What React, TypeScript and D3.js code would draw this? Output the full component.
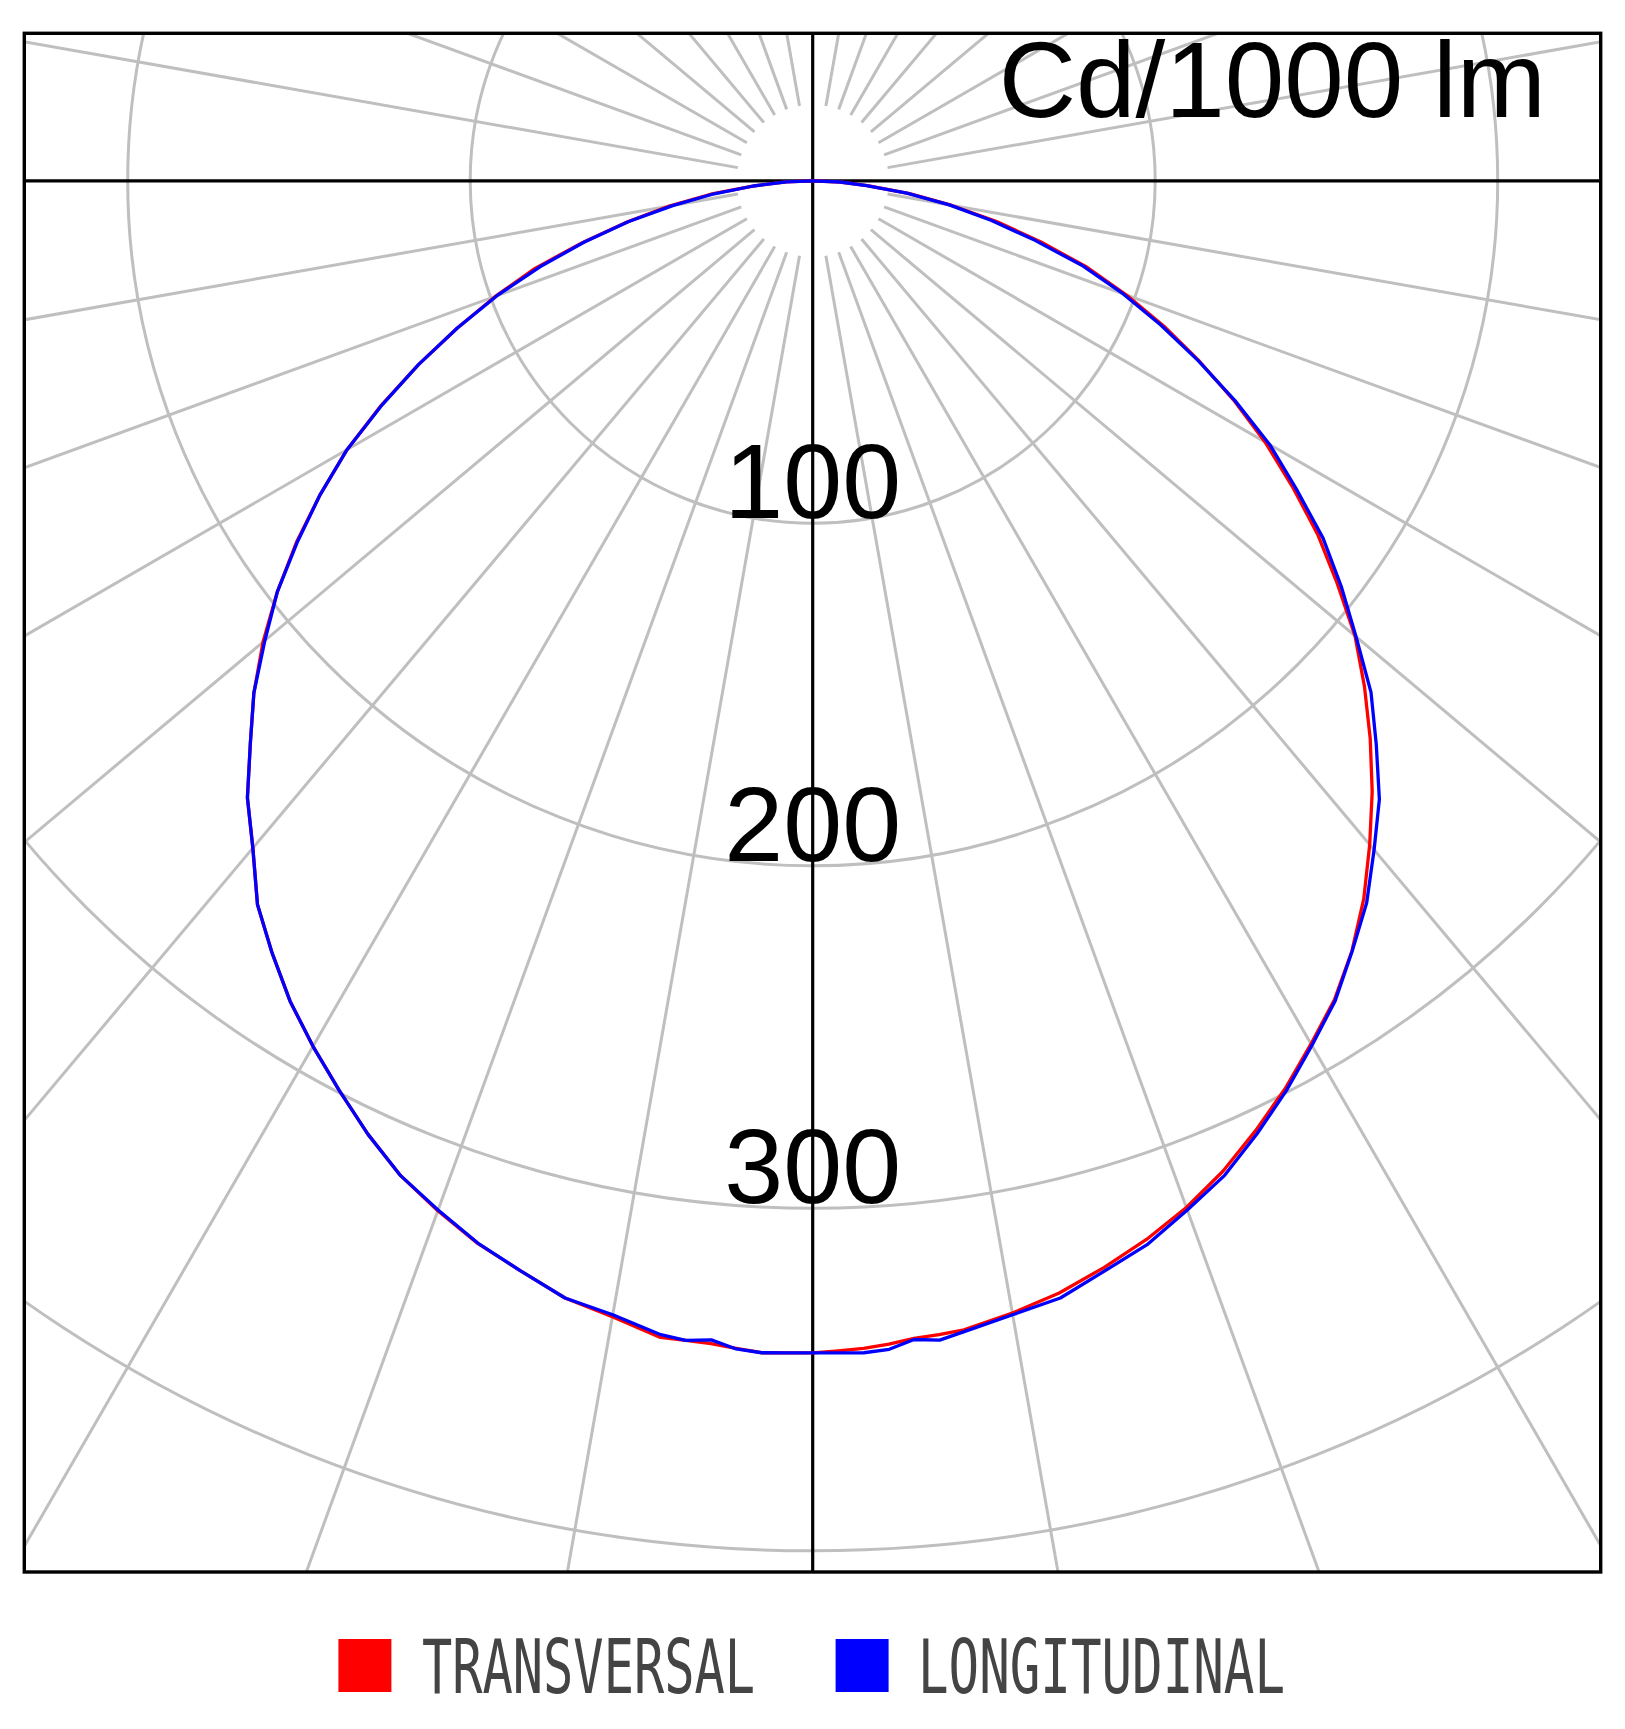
import React from 'react';
import * as d3 from 'd3';

// Polar angles measured from nadir (degrees)
const ANGLES = [0, 1.25, 2.5, 3.75, 5, 6.25, 7.5, 10, 12.5, 15, 17.5, 20, 22.5, 25, 27.5, 30, 32.5, 35, 37.5, 40, 42.5, 45, 47.5, 50, 52.5, 55, 57.5, 60, 62.5, 65, 67.5, 70, 72.5, 75, 77.5, 80, 82.5, 85, 87.5, 90];

// Luminous intensity, cd/1000 lm
const TRANSVERSAL_LEFT = [342.2, 342.3, 342.5, 341.6, 340.8, 340.6, 340.6, 336.8, 334.1, 329.5, 325.3, 320.0, 314.4, 307.2, 299.4, 291.8, 284.0, 275.2, 266.3, 254.3, 244.3, 232.2, 221.3, 209.5, 197.0, 184.0, 170.5, 157.0, 142.0, 127.0, 112.3, 98.5, 85.0, 69.5, 55.5, 42.5, 30.0, 17.6, 7.7, 0];
const TRANSVERSAL_RIGHT = [342.2, 341.7, 341.2, 340.4, 339.3, 338.9, 338.4, 335.7, 332.6, 328.5, 324.1, 319.0, 313.0, 306.0, 298.8, 291.0, 283.5, 274.5, 264.3, 253.0, 241.8, 230.2, 218.5, 206.7, 193.0, 180.0, 166.0, 152.5, 138.5, 124.5, 111.0, 97.5, 84.0, 69.0, 55.0, 41.0, 28.5, 16.0, 8.0, 0];
const LONGITUDINAL_LEFT = [342.2, 342.3, 342.5, 341.8, 339.7, 340.6, 339.8, 336.2, 334.1, 329.5, 325.2, 319.8, 314.4, 307.2, 299.4, 291.8, 284.0, 275.2, 266.3, 254.3, 244.3, 232.2, 221.3, 208.8, 197.0, 183.6, 170.5, 157.0, 141.8, 127.0, 112.3, 98.1, 83.5, 69.0, 55.0, 41.3, 29.0, 17.4, 7.7, 0];
const LONGITUDINAL_RIGHT = [342.2, 342.3, 342.5, 341.9, 339.6, 340.5, 338.9, 336.2, 334.1, 329.5, 325.5, 319.8, 314.3, 307.0, 299.5, 291.5, 283.9, 274.6, 265.7, 255.0, 244.9, 232.7, 221.1, 207.1, 194.5, 181.9, 167.4, 154.1, 139.0, 124.1, 110.0, 96.4, 82.8, 67.2, 53.5, 40.5, 27.7, 15.8, 8.1, 0];

const RING_VALUES = [100, 200, 300, 400, 500];
const RING_LABELS = [100, 200, 300];
const SPOKE_STEP = 10;
const UNIT_LABEL = 'Cd/1000 lm';
const SERIES_NAMES = ['TRANSVERSAL', 'LONGITUDINAL'];
const SERIES_COLORS = ['#ff0000', '#0000ff'];

const W = 1625;
const H = 1729;
const FRAME = { x0: 24.3, y0: 33.3, x1: 1600.7, y1: 1572 };
const CX = 812.7;
const CY = 180.8;

const rScale = d3.scaleLinear().domain([0, 100]).range([0, 342.5]);
const rad = (deg: number) => (deg * Math.PI) / 180;

function curvePath(left: number[], right: number[]): string {
  const pts: [number, number][] = [];
  for (let i = ANGLES.length - 1; i >= 0; i--) {
    pts.push([Math.PI - rad(ANGLES[i]), rScale(right[i])]);
  }
  for (let i = 1; i < ANGLES.length; i++) {
    pts.push([Math.PI + rad(ANGLES[i]), rScale(left[i])]);
  }
  return d3.lineRadial<[number, number]>().angle((d) => d[0]).radius((d) => d[1])(pts) || '';
}

export default function App() {
  const spokes = d3.range(0, 360, SPOKE_STEP).filter((a) => a % 90 !== 0);
  const rInner = 76;
  const rOuter = 2200;
  const series = [
    { name: SERIES_NAMES[0], color: SERIES_COLORS[0], left: TRANSVERSAL_LEFT, right: TRANSVERSAL_RIGHT },
    { name: SERIES_NAMES[1], color: SERIES_COLORS[1], left: LONGITUDINAL_LEFT, right: LONGITUDINAL_RIGHT },
  ];
  const legendX = [338.4, 835.6];
  const legendTextX = [422, 918];
  const legendTextLen = [333, 367];

  return (
    <svg
      width={W}
      height={H}
      viewBox={`0 0 ${W} ${H}`}
      style={{ position: 'absolute', left: 0, top: 0, background: '#fff' }}
    >
      <defs>
        <clipPath id="plot-area">
          <rect x={FRAME.x0} y={FRAME.y0} width={FRAME.x1 - FRAME.x0} height={FRAME.y1 - FRAME.y0} />
        </clipPath>
      </defs>
      <rect x={0} y={0} width={W} height={H} fill="#fff" />
      <g clipPath="url(#plot-area)">
        <g transform={`translate(${CX},${CY})`} stroke="#bfbfbf" strokeWidth={3} fill="none">
          {RING_VALUES.map((v) => (
            <circle key={v} r={rScale(v)} />
          ))}
          {spokes.map((a) => (
            <line
              key={a}
              x1={rInner * Math.sin(rad(a))}
              y1={-rInner * Math.cos(rad(a))}
              x2={rOuter * Math.sin(rad(a))}
              y2={-rOuter * Math.cos(rad(a))}
            />
          ))}
        </g>
        <line x1={FRAME.x0} x2={FRAME.x1} y1={CY} y2={CY} stroke="#000" strokeWidth={3.2} />
        <line x1={CX} x2={CX} y1={FRAME.y0} y2={FRAME.y1} stroke="#000" strokeWidth={3.2} />
        <g fontFamily="'Liberation Sans', Arial, sans-serif" fontSize={106} fill="#000" textAnchor="middle">
          {RING_LABELS.map((v) => (
            <text key={v} x={CX} y={CY + rScale(v) - 5}>
              {v}
            </text>
          ))}
        </g>
        <text
          x={1546}
          y={117}
          textAnchor="end"
          fontFamily="'Liberation Sans', Arial, sans-serif"
          fontSize={107}
          fill="#000"
        >
          {UNIT_LABEL}
        </text>
        <g transform={`translate(${CX},${CY})`} fill="none" strokeWidth={3.3} strokeLinejoin="round">
          {series.map((s) => (
            <path key={s.name} d={curvePath(s.left, s.right)} stroke={s.color} />
          ))}
        </g>
      </g>
      <rect
        x={FRAME.x0}
        y={FRAME.y0}
        width={FRAME.x1 - FRAME.x0}
        height={FRAME.y1 - FRAME.y0}
        fill="none"
        stroke="#000"
        strokeWidth={3.4}
      />
      {series.map((s, i) => (
        <g key={s.name}>
          <rect x={legendX[i]} y={1639} width={53} height={53} fill={s.color} />
          <text
            x={legendTextX[i]}
            y={1693}
            fontFamily="'DejaVu Sans Mono', monospace"
            fontSize={75.5}
            fill="#444"
            textLength={legendTextLen[i]}
            lengthAdjust="spacingAndGlyphs"
          >
            {s.name}
          </text>
        </g>
      ))}
    </svg>
  );
}
